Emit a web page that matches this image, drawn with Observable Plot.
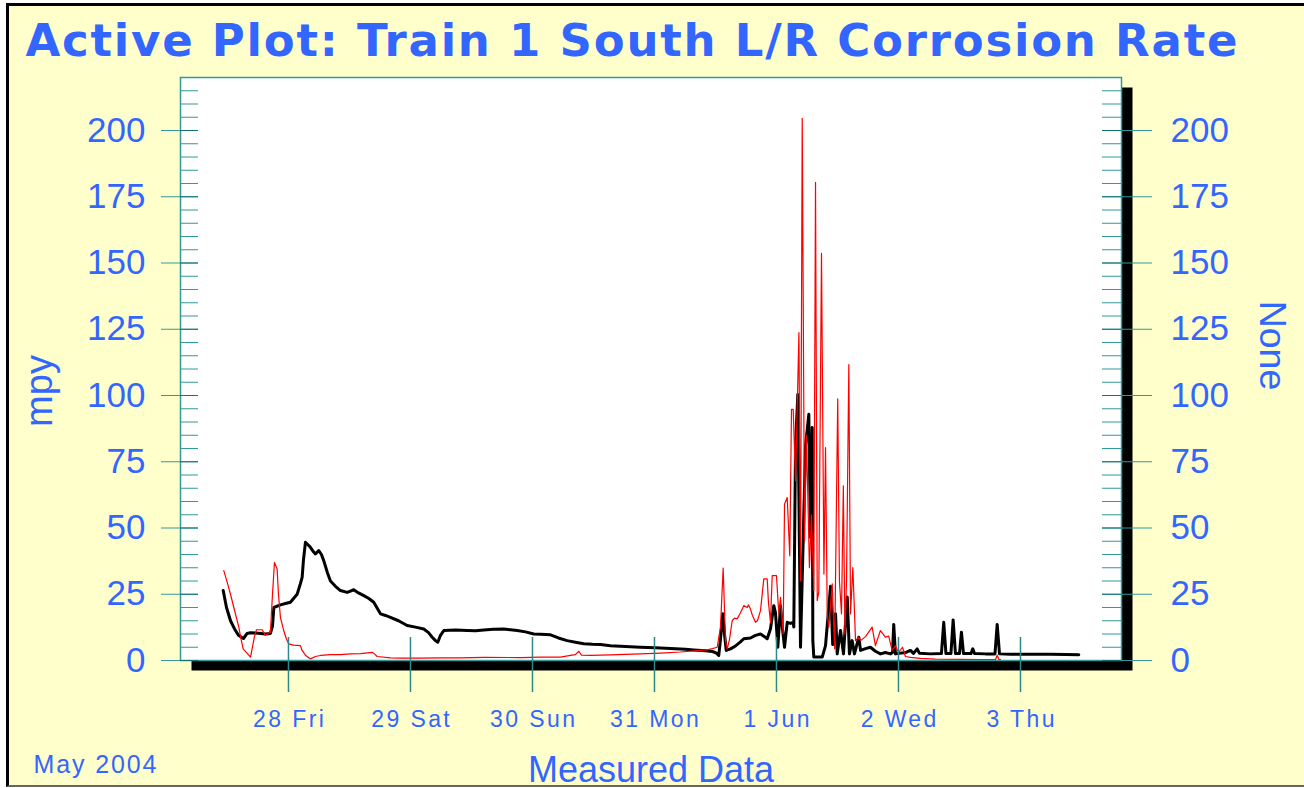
<!DOCTYPE html>
<html><head><meta charset="utf-8">
<script src="https://cdn.jsdelivr.net/npm/d3@7"></script>
<script src="https://cdn.jsdelivr.net/npm/@observablehq/plot@0.6"></script>
<style>
html,body{margin:0;padding:0;background:#fff;width:1304px;height:788px;overflow:hidden}
#panel{position:absolute;left:6px;top:3px;width:1310px;height:779px;background:#ffffcc;border-left:3px solid #000;border-top:3px solid #000;border-bottom:2px solid #666}
#chart{position:absolute;left:0;top:0}
</style></head><body>
<div id="panel"></div>
<div id="chart"></div>
<script>
const titleText = "Active Plot: Train 1 South L/R Corrosion Rate";
const leftLabel = "mpy";
const rightLabel = "None";
const xLabel = "Measured Data";
const dateCaption = "May 2004";

// x ticks: days after 28 May 2004, 00:00
const xTickDays = [0, 1, 2, 3, 4, 5, 6];
const xTickLabels = ["28 Fri", "29 Sat", "30 Sun", "31 Mon", "1 Jun", "2 Wed", "3 Thu"];
const yTicks = [0, 25, 50, 75, 100, 125, 150, 175, 200];
const yMax = 220;
const xDomainDays = [-0.885, 6.828];

// black series (thick): time in days after 28 May 00:00, value in mpy
const blackDays = [-0.535,-0.508,-0.475,-0.443,-0.410,-0.369,-0.339,-0.311,-0.246,-0.189,-0.148,-0.131,-0.120,-0.066,-0.025,0.016,0.071,0.098,0.112,0.123,0.139,0.164,0.180,0.205,0.221,0.248,0.270,0.289,0.320,0.344,0.385,0.426,0.481,0.508,0.535,0.574,0.617,0.656,0.699,0.730,0.754,0.795,0.836,0.902,0.973,1.041,1.109,1.148,1.178,1.205,1.224,1.246,1.273,1.369,1.465,1.533,1.601,1.680,1.765,1.820,1.875,1.943,2.011,2.066,2.148,2.213,2.284,2.352,2.420,2.492,2.557,2.639,2.762,2.885,3.008,3.131,3.254,3.322,3.418,3.475,3.508,3.527,3.541,3.560,3.574,3.588,3.623,3.664,3.705,3.732,3.787,3.828,3.869,3.902,3.924,3.951,3.978,3.992,4.011,4.025,4.033,4.049,4.066,4.088,4.115,4.137,4.142,4.156,4.175,4.197,4.211,4.238,4.265,4.279,4.293,4.298,4.306,4.375,4.402,4.443,4.461,4.484,4.498,4.525,4.549,4.580,4.598,4.620,4.639,4.675,4.689,4.730,4.770,4.811,4.852,4.893,4.934,4.951,4.961,4.975,5.057,5.098,5.123,5.153,5.172,5.262,5.352,5.371,5.389,5.430,5.448,5.467,5.500,5.516,5.533,5.594,5.609,5.623,5.713,5.791,5.809,5.828,5.918,6.082,6.246,6.369,6.478];
const blackValues = [26.4,20,15,12,9.5,8.3,10.2,10.5,10.3,10,10.2,13,20,21,21.5,22,25,29,31.4,38,44.6,43.5,42.7,41,40.2,41.5,40,37.7,33,30,28,26.4,25.7,26.2,26.7,25.5,24.5,23.5,22,19.5,17.6,17,16.3,15,13.2,12.6,11.9,10.5,8.8,7.5,6.9,9.5,11.3,11.5,11.3,11.2,11.5,11.8,11.9,11.6,11.3,10.8,10,9.9,9.7,8.5,7.5,6.9,6.3,6.1,6,5.6,5.3,5.0,4.8,4.5,4.2,4,3.7,3.4,2.8,1.9,8,17.6,10,3.8,4.4,5.5,7,8.2,8.5,9.5,10,9,8.2,12,20.7,18,5,15,20.7,12,5,14.4,14,14.4,12.6,81,100.4,5,31,81,92.9,46.4,87.9,7.5,1.3,1.3,5.6,28,6,17.6,2.5,11.3,2.5,24,2.5,7.5,2.5,8.8,3.8,4.5,5,3.5,2.5,3,2.5,3,13.6,2.5,3,3.8,2.7,4.4,2.7,2.5,2.6,14.4,2.6,2.6,15.3,2.6,2.6,10.7,2.6,2.6,4.4,2.6,2.5,2.5,13.6,2.5,2.4,2.4,2.4,2.3,2.2];

// red series (thin)
const redDays = [-0.530,-0.502,-0.475,-0.448,-0.426,-0.407,-0.393,-0.371,-0.344,-0.311,-0.298,-0.279,-0.262,-0.216,-0.189,-0.148,-0.131,-0.115,-0.093,-0.082,-0.066,-0.039,-0.016,0.002,0.041,0.098,0.112,0.139,0.180,0.221,0.262,0.344,0.426,0.508,0.590,0.686,0.705,0.727,0.836,0.918,1.055,1.246,1.410,1.598,1.902,2.066,2.230,2.311,2.352,2.380,2.402,2.475,2.639,2.885,3.049,3.213,3.377,3.432,3.475,3.514,3.541,3.563,3.582,3.596,3.615,3.637,3.656,3.678,3.705,3.732,3.760,3.770,3.787,3.803,3.828,3.844,3.869,3.896,3.924,3.934,3.951,3.965,4.000,4.019,4.033,4.055,4.066,4.088,4.109,4.123,4.137,4.156,4.184,4.197,4.211,4.230,4.246,4.270,4.287,4.306,4.320,4.334,4.347,4.369,4.389,4.402,4.416,4.429,4.457,4.477,4.502,4.516,4.533,4.548,4.561,4.574,4.593,4.607,4.626,4.648,4.675,4.689,4.730,4.784,4.811,4.852,4.893,4.920,4.948,4.975,5.000,5.033,5.057,5.098,5.180,5.303,5.508,5.672,5.795,5.809,5.824,5.836];
const redValues = [33.9,29.5,25,20,16,12.6,9,4.4,3,1.3,4.4,9,11.6,11.6,9.5,10.7,25,37,34.5,25,16.3,11.3,8,6.3,5.8,5.6,3.8,2,0.6,1.5,1.9,2.2,2.2,2.5,2.6,3.1,2.5,1.5,1.0,0.9,0.9,1.0,1.0,1.2,1.1,1.3,1.3,1.9,2.2,3.5,2,1.9,2.1,2.5,2.8,3.2,3.8,4,4.5,5,12.6,34.9,7.6,4.4,8,15,16,15.7,18,20.7,20,21,19.4,17,14.4,15,18.8,30.8,30.8,22,14.4,32,32,17.6,23.8,10,59,61.5,39.5,94.8,94.8,67.8,123.7,30,204.6,45,85,35,55,26.4,180.4,22.6,26,153.6,32.6,80.3,17.6,12.6,28.9,4.4,98.7,30,17.6,65.9,10,30,111.7,17.6,35.1,7.5,8.8,7.5,9,12.6,5.6,11.3,8.8,9.2,3.8,5.5,3,5,1.5,1.2,0.8,0.5,0.4,0.3,0.3,2,0.3,0.3];

const base = Date.UTC(2004, 4, 28);
const DAY = 864e5;
const toDate = d => new Date(base + d * DAY);
const blackData = blackDays.map((d, i) => ({t: toDate(d), v: blackValues[i]}));
const redData = redDays.map((d, i) => ({t: toDate(d), v: redValues[i]}));
const xTickDates = xTickDays.map(toDate);
const yMinorTicks = d3.range(0, yMax + 1, 5);

const W = 1304, H = 788;
const mL = 180, mR = 183, mT = 77, mB = 128;
const innerW = W - mL - mR, innerH = H - mT - mB;
const teal = "#339999", tealDark = "#127373", blue = "#3366ff";
const sans = "'Liberation Sans', Arial, sans-serif";

const chart = Plot.plot({
  width: W, height: H,
  marginLeft: mL, marginRight: mR, marginTop: mT, marginBottom: mB,
  style: {background: "transparent", overflow: "visible", fontFamily: sans},
  x: {type: "utc", domain: xDomainDays.map(toDate), label: null},
  y: {domain: [0, yMax], label: null},
  marks: [
    Plot.frame({fill: "#000", dx: 11, dy: 10}),
    Plot.frame({fill: "#fff"}),
    Plot.line(blackData, {x: "t", y: "v", stroke: "#000", strokeWidth: 3}),
    Plot.line(redData, {x: "t", y: "v", stroke: "#ff0000", strokeWidth: 1.2}),
    Plot.frame({stroke: teal, strokeWidth: 1.5}),
    Plot.tickY(yMinorTicks, {y: d => d, stroke: teal, insetRight: innerW - 18}),
    Plot.tickY(yMinorTicks, {y: d => d, stroke: teal, insetLeft: innerW - 19}),
    Plot.tickY(yTicks, {y: d => d, stroke: tealDark, insetRight: innerW - 18}),
    Plot.tickY(yTicks, {y: d => d, stroke: tealDark, insetLeft: innerW - 19}),
    Plot.tickX(xTickDates, {x: d => d, stroke: "#2a8a8a", strokeWidth: 1.5, insetTop: innerH - 23}),
    Plot.axisY({anchor: "left", ticks: yTicks, tickSize: 19, tickPadding: 16, stroke: teal, fill: blue, fontSize: 35, fontFamily: sans, label: null, tickFormat: d => String(d)}),
    Plot.axisY({anchor: "right", ticks: yTicks, tickSize: 30, tickPadding: 19, stroke: teal, fill: blue, fontSize: 35, fontFamily: sans, label: null, tickFormat: d => String(d)}),
    Plot.axisX({anchor: "bottom", ticks: xTickDates, tickSize: 32, tickPadding: 18, stroke: "#2a8a8a", strokeWidth: 1.5, fill: blue, fontSize: 23, fontFamily: sans, label: null,
      tickFormat: d => xTickLabels[xTickDates.findIndex(t => +t === +d)]}),
    Plot.text([titleText], {frameAnchor: "top-left", dx: -155, dy: -22, textAnchor: "start", lineAnchor: "bottom", fontSize: 45, fontWeight: "bold", fontFamily: "'DejaVu Sans', Verdana, sans-serif", fill: blue}),
    Plot.text([leftLabel], {frameAnchor: "left", dx: 51.7 - mL, dy: 390.5 - (mT + innerH / 2), rotate: -90, textAnchor: "middle", lineAnchor: "bottom", fontSize: 38, fontFamily: sans, fill: blue}),
    Plot.text([rightLabel], {frameAnchor: "right", dx: 1259 - (W - mR), dy: 345 - (mT + innerH / 2), rotate: 90, textAnchor: "middle", lineAnchor: "bottom", fontSize: 37.5, fontFamily: sans, fill: blue}),
    Plot.text([xLabel], {frameAnchor: "bottom", dy: 781.5 - (H - mB), textAnchor: "middle", lineAnchor: "bottom", fontSize: 36, fontFamily: sans, fill: blue}),
    Plot.text([dateCaption], {frameAnchor: "bottom-left", dx: 33 - mL, dy: 772.7 - (H - mB), textAnchor: "start", lineAnchor: "bottom", fontSize: 25, fontFamily: sans, fill: blue})
  ]
});
document.getElementById("chart").appendChild(chart);

const svg = d3.select(chart);
function fitText(str, len) {
  svg.selectAll("text").filter(function () { return this.textContent === str; })
    .each(function () {
      const cur = this.getComputedTextLength();
      const n = str.length;
      const sp = (len - cur) / (n - 1);
      this.style.letterSpacing = sp + "px";
    });
}
fitText(titleText, 1212);
fitText(dateCaption, 123);
svg.selectAll('g[aria-label="x-axis tick label"] text').style("letter-spacing", "2.4px").attr("dx", "1.2");
</script>
</body></html>
